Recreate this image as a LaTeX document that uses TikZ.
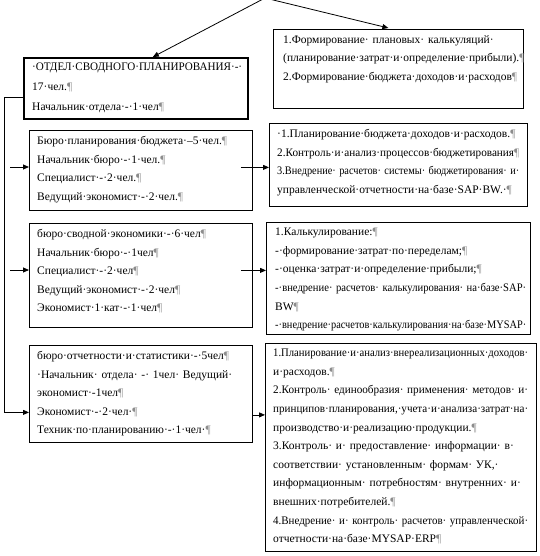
\documentclass[tikz,border=0pt]{standalone}
\usepackage{graphicx}
\usepackage{fontspec}
\setmainfont{Liberation Serif}
\usetikzlibrary{positioning, arrows.meta}

% formatting mark, fitted line and justified line
\newcommand{\pilc}{{\color{black!45}¶}}
\newsavebox{\linebox}
\newcommand{\fline}[1]{\sbox{\linebox}{#1}\ifdim\wd\linebox>\linewidth\resizebox{\linewidth}{\height}{#1}\else\usebox{\linebox}\fi}
\newcommand{\jline}[1]{\sbox{\linebox}{#1}\ifdim\wd\linebox>\linewidth\resizebox{\linewidth}{\height}{#1}\else\makebox[\linewidth][s]{#1}\fi}

\begin{document}
\begin{tikzpicture}[
    x=1pt, y=-1pt,
    box/.style={draw, inner sep=0pt, anchor=north west, line width=0.8pt},
    txt/.style={inner sep=0pt, anchor=north west, align=left,
        font=\fontsize{11.5}{18.6}\selectfont},
    arrow/.style={-{Triangle[length=6pt,width=5pt]}, line width=0.8pt}
]
\useasboundingbox (0,0) rectangle (539,556);

% boxes
\node[box, minimum width=250pt, minimum height=79pt] (plan) at (273,29) {};
\node[box, minimum width=224pt, minimum height=61pt, line width=1.6pt] (otdel) at (23,57) {};
\node[box, minimum width=223pt, minimum height=80pt] (b1) at (29,130) {};
\node[box, minimum width=258pt, minimum height=83pt] (r1) at (269,123) {};
\node[box, minimum width=223pt, minimum height=104pt] (b2) at (29,223) {};
\node[box, minimum width=264pt, minimum height=112pt] (r2) at (266,222) {};
\node[box, minimum width=223pt, minimum height=97pt] (b3) at (29,345) {};
\node[box, minimum width=271pt, minimum height=208pt] (r3) at (265,343) {};

% texts
\node[txt, text width=236pt] (plantxt) at ([shift={(10,6)}]plan.north west) {%
\jline{1.Формирование· плановых· калькуляций·}\\
(планирование·затрат·и·определение·прибыли).\pilc\\
2.Формирование·бюджета·доходов·и·расходов\pilc};

\node[txt, text width=210pt, font=\fontsize{11.5}{20}\selectfont] (otdeltxt) at ([shift={(9,6)}]otdel.north west) {%
\fline{·ОТДЕЛ·СВОДНОГО·ПЛАНИРОВАНИЯ·-·}\\
17·чел.\pilc\\
Начальник·отдела·-·1·чел\pilc};

\node[txt, text width=208pt] (b1txt) at ([shift={(8,6)}]b1.north west) {%
Бюро·планирования·бюджета·–5·чел.\pilc\\
Начальник·бюро·-·1·чел.\pilc\\
Специалист·-·2·чел.\pilc\\
Ведущий·экономист·-·2·чел.\pilc};

\node[txt, text width=242pt] (r1txt) at ([shift={(8,6)}]r1.north west) {%
·1.Планирование·бюджета·доходов·и·расходов.\pilc\\
\fline{2.Контроль·и·анализ·процессов·бюджетирования\pilc}\\
\jline{3.Внедрение· расчетов· системы· бюджетирования· и·}\\
управленческой·отчетности·на·базе·SAP·BW.·\pilc};

\node[txt, text width=208pt] (b2txt) at ([shift={(8,6)}]b2.north west) {%
бюро·сводной·экономики·-·6·чел\pilc\\
Начальник·бюро·-·1чел\pilc\\
Специалист·-·2·чел\pilc\\
Ведущий·экономист·-·2·чел\pilc\\
Экономист·1·кат·-·1·чел\pilc};

\node[txt, text width=251pt] (r2txt) at ([shift={(9,6)}]r2.north west) {%
1.Калькулирование:\pilc\\
-·формирование·затрат·по·переделам;\pilc\\
-·оценка·затрат·и·определение·прибыли;\pilc\\
\jline{-·внедрение· расчетов· калькулирования· на·базе·SAP·}\\
BW\pilc\\
\fline{-·внедрение·расчетов·калькулирования·на·базе·MYSAP·}};

\node[txt, text width=207pt] (b3txt) at ([shift={(8,6)}]b3.north west) {%
бюро·отчетности·и·статистики·-·5чел\pilc\\
\jline{·Начальник· отдела· -· 1чел· Ведущий·}\\
экономист·-1чел\pilc\\
Экономист·-·2·чел·\pilc\\
Техник·по·планированию·-·1·чел·\pilc};

\node[txt, text width=255pt] (r3txt) at ([shift={(8,6)}]r3.north west) {%
\fline{1.Планирование·и·анализ·внереализационных·доходов·}\\
и·расходов.\pilc\\
\jline{2.Контроль· единообразия· применения· методов· и·}\\
\fline{принципов·планирования,·учета·и·анализа·затрат·на·}\\
производство·и·реализацию·продукции.\pilc\\
\jline{3.Контроль· и· предоставление· информации· в·}\\
\jline{соответствии· установленным· формам· УК,·}\\
\jline{информационным· потребностям· внутренних· и·}\\
внешних·потребителей.\pilc\\
\jline{4.Внедрение· и· контроль· расчетов· управленческой·}\\
отчетности·на·базе·MYSAP·ERP\pilc};

% connectors
\coordinate (apex) at (265,-2);
\draw[arrow] (apex) -- ([xshift=17pt]otdel.north);
\draw[arrow] (apex) -- ([xshift=-10pt,yshift=1pt]plan.north);

\draw[arrow] ([yshift=-9.5pt]otdel.west) -- ++(-19,0) |- ([yshift=-18.5pt]b3.west);
\coordinate (b1in) at (10,167);
\coordinate (b2in) at (10,270);
\draw[arrow] (b1in) -- (b1in -| b1.west);
\draw[arrow] (b2in) -- (b2in -| b2.west);

\path (b1.east) ++(-12,-3) coordinate (c1);
\path (b2.east) ++(-12,-5) coordinate (c2);
\path (b3.east) ++(0,21) coordinate (c3);
\draw[arrow] (c1) -- (c1 -| r1.west);
\draw[arrow] (c2) -- (c2 -| r2.west);
\draw[arrow] (c3) -- (c3 -| r3.west);
\end{tikzpicture}
\end{document}
